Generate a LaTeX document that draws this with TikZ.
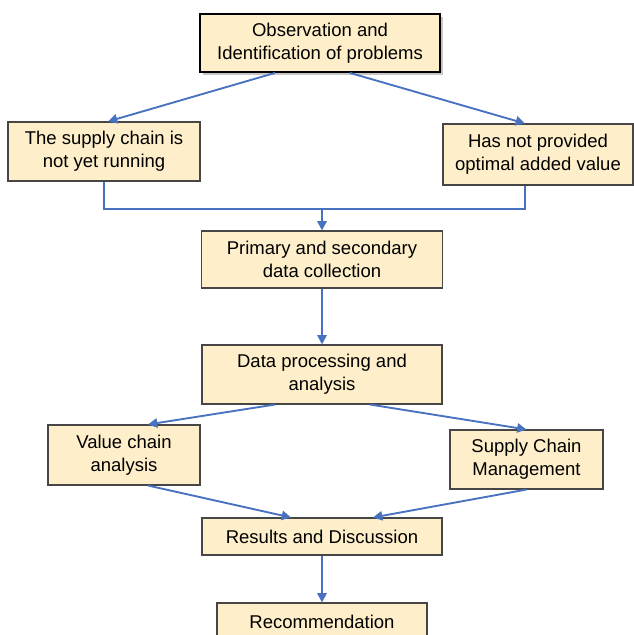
\documentclass[tikz,border=0pt]{standalone}
\usepackage{fontspec}
\setmainfont{Liberation Sans}
\usepackage{xcolor}
\usepackage{tikz}
\usetikzlibrary{arrows.meta,positioning,shadows}

\definecolor{boxfill}{RGB}{254,239,202}
\definecolor{boxedge}{RGB}{70,70,70}
\definecolor{flowblue}{RGB}{72,114,192}

\begin{document}
\begin{tikzpicture}[
    x=0.03cm, y=-0.03cm,
    box/.style={rectangle, draw=boxedge, fill=boxfill, line width=0.9pt,
                minimum width=7.2cm, minimum height=1.74cm, inner sep=2pt,
                font=\fontsize{15.8}{19.5}\selectfont, align=center},
    topbox/.style={box, draw=black, line width=1.6pt,
                   drop shadow={shadow xshift=2.5pt, shadow yshift=-2.5pt, opacity=0.45}},
    line/.style={flowblue, line width=1.6pt},
    arrow/.style={line, -{Triangle[length=2.8mm,width=2.8mm]}}
]
    \useasboundingbox (0,0) rectangle (633,635);

    \node[topbox] (obs)     at (320,43)    {Observation and\\Identification of problems};
    \node[box, minimum width=5.76cm, minimum height=1.77cm] (supply) at (104,151.5) {The supply chain is\\not yet running};
    \node[box, minimum width=5.7cm, minimum height=1.83cm]  (hasnot) at (538,154.5) {Has not provided\\optimal added value};
    \node[box, minimum width=7.23cm, minimum height=1.71cm] (collect) at (322,259.5) {Primary and secondary\\data collection};
    \node[box, minimum height=1.77cm] (process) at (322,374.5) {Data processing and\\analysis};
    \node[box, minimum width=4.56cm, minimum height=1.8cm]  (valchain) at (124,455) {Value chain\\analysis};
    \node[box, minimum width=4.59cm, minimum height=1.77cm] (scm) at (526.5,459.5) {Supply Chain\\Management};
    \node[box, minimum height=1.11cm] (results) at (322,536.5) {Results and Discussion};
    \node[box, minimum width=6.3cm, minimum height=1.14cm] (recom) at (322,622) {Recommendation};

    \draw[arrow] ([xshift=-1.35cm]obs.south) -- ([xshift=0.12cm]supply.north);
    \draw[arrow] ([xshift=0.9cm]obs.south) -- ([xshift=-0.39cm]hasnot.north);

    % merge of the two problems
    \coordinate (join) at (322,209);
    \draw[line] (supply.south) |- (join) -| ([xshift=-0.39cm]hasnot.south);
    \draw[arrow] (join) -- (join |- collect.north);

    \draw[arrow] (collect) -- (process);
    \draw[arrow] ([xshift=-1.41cm]process.south) -- ([xshift=0.72cm]valchain.north);
    \draw[arrow] ([xshift=1.44cm]process.south) -- (scm.north);
    \draw[arrow] ([xshift=0.72cm]valchain.south) -- ([xshift=-0.93cm]results.north);
    \draw[arrow] (scm.south) -- ([xshift=1.53cm]results.north);
    \draw[arrow] (results) -- (recom);
\end{tikzpicture}
\end{document}
